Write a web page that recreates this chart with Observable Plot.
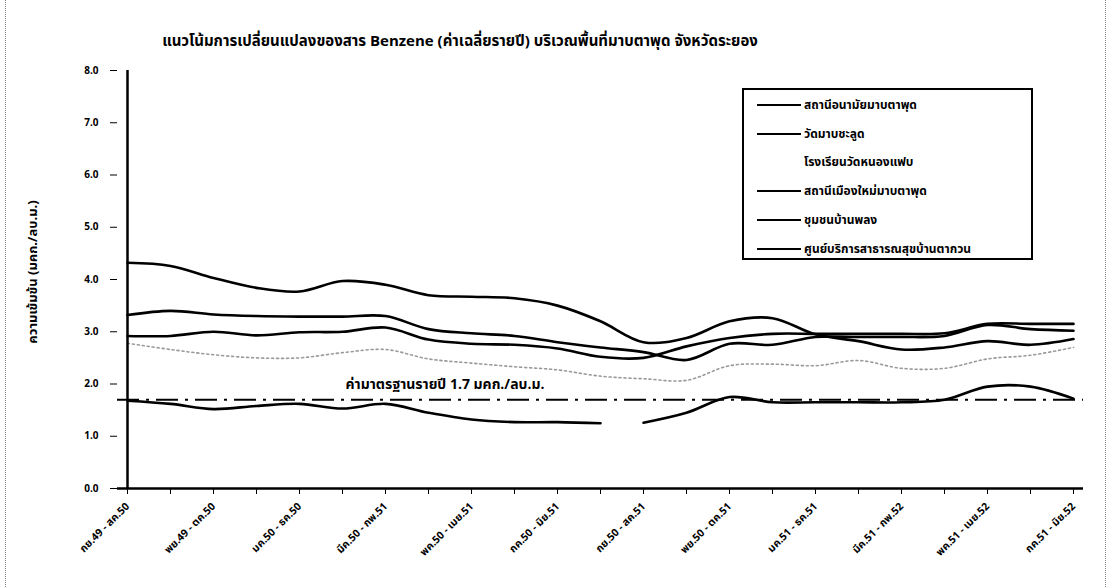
<!DOCTYPE html>
<html><head><meta charset="utf-8">
<script src="https://cdn.jsdelivr.net/npm/d3@7"></script>
<script src="https://cdn.jsdelivr.net/npm/@observablehq/plot@0.6"></script>
<style>
html,body{margin:0;padding:0;background:#fff;}
body{width:1118px;height:587px;position:relative;overflow:hidden;font-family:"Noto Sans Thai","Loma","Garuda","Tlwg Typo","Noto Sans","DejaVu Sans",sans-serif;}
#chart{position:absolute;left:0;top:0;}
#title{position:absolute;left:0;width:920px;top:30px;text-align:center;font-weight:bold;font-size:15px;color:#000;}
#ylab{position:absolute;left:33px;top:272px;transform:translate(-50%,-50%) rotate(-90deg);white-space:nowrap;font-weight:bold;font-size:13px;}
#legend{position:absolute;left:742px;top:88px;width:291px;height:172px;border:2px solid #000;box-sizing:border-box;}
.li{position:absolute;left:13px;font-weight:bold;font-size:12px;white-space:nowrap;display:flex;align-items:center;}
.sw{display:inline-block;width:44px;height:0;border-top:2px solid #000;margin-right:3px;}
.sw.dot{border-top:2px dotted #bbb;}
#frameL{position:absolute;left:5px;top:0;height:587px;border-left:1px dotted #888;}
#frameR{position:absolute;left:1105px;top:0;height:587px;border-left:1px dotted #888;}
</style></head>
<body>
<div id="frameL"></div><div id="frameR"></div>
<div id="chart"></div>
<div id="title"></div>
<div id="ylab"></div>
<div id="legend"></div>
<script>
const titleText = "แนวโน้มการเปลี่ยนแปลงของสาร Benzene (ค่าเฉลี่ยรายปี) บริเวณพื้นที่มาบตาพุด จังหวัดระยอง";
const yLabel = "ความเข้มข้น (มคก./ลบ.ม.)";
const periods = ["กย.49 - สค.50","ตค.49 - กย.50","พย.49 - ตค.50","ธค.49 - พย.50","มค.50 - ธค.50","กพ.50 - มค.51","มีค.50 - กพ.51","เมย.50 - มีค.51","พค.50 - เมย.51","มิย.50 - พค.51","กค.50 - มิย.51","สค.50 - กค.51","กย.50 - สค.51","ตค.50 - กย.51","พย.50 - ตค.51","ธค.50 - พย.51","มค.51 - ธค.51","กพ.51 - มค.52","มีค.51 - กพ.52","เมย.51 - มีค.52","พค.51 - เมย.52","มิย.51 - พค.52","กค.51 - มิย.52"];
const stations = ["สถานีอนามัยมาบตาพุด","วัดมาบชะลูด","โรงเรียนวัดหนองแฟบ","สถานีเมืองใหม่มาบตาพุด","ชุมชนบ้านพลง","ศูนย์บริการสาธารณสุขบ้านตากวน"];
const s1 = [4.32,4.26,4.03,3.84,3.77,3.97,3.90,3.70,3.67,3.64,3.50,3.20,2.80,2.88,3.20,3.26,2.95,2.82,2.66,2.70,2.82,2.75,2.86];
const s2 = [3.32,3.40,3.33,3.30,3.29,3.29,3.30,3.05,2.97,2.92,2.80,2.70,2.61,2.46,2.77,2.75,2.90,2.90,2.90,2.92,3.13,3.05,3.02];
const s3 = [2.78,2.66,2.56,2.50,2.50,2.60,2.66,2.48,2.40,2.33,2.27,2.15,2.10,2.07,2.35,2.38,2.35,2.45,2.30,2.30,2.48,2.55,2.70];
const s4 = [2.92,2.92,3.00,2.93,2.99,3.00,3.08,2.85,2.77,2.75,2.68,2.52,2.50,2.72,2.88,2.96,2.96,2.96,2.96,2.97,3.15,3.15,3.15];
const s5 = [1.68,1.62,1.52,1.58,1.62,1.53,1.62,1.45,1.32,1.27,1.27,1.25,null,null,null,null,null,null,null,null,null,null,null];
const s6 = [null,null,null,null,null,null,null,null,null,null,null,null,1.26,1.45,1.75,1.65,1.65,1.65,1.65,1.70,1.95,1.95,1.72];
const standard = 1.7;
const standardLabel = "ค่ามาตรฐานรายปี 1.7 มคก./ลบ.ม.";
const yTicks = [0,1,2,3,4,5,6,7,8];

const seriesValues = [s1,s2,s3,s4,s5,s6];
const rows = [];
stations.forEach((st, k) => seriesValues[k].forEach((v, i) => rows.push({station: st, period: periods[i], value: v})));

const dotted = stations[2];
const solidRows = rows.filter(d => d.station !== dotted);
const dotRows = rows.filter(d => d.station === dotted);

const chart = Plot.plot({
  width: 1118, height: 587,
  marginLeft: 117, marginRight: 35, marginTop: 70, marginBottom: 99,
  style: {fontFamily: "'Noto Sans Thai','Loma','Garuda','Noto Sans',sans-serif", fontWeight: "bold", fontSize: "10px", color: "#000", background: "transparent"},
  x: {type: "point", domain: periods, padding: 0},
  y: {domain: [0, 8]},
  marks: [
    Plot.axisY({ticks: yTicks, tickFormat: d3.format(".1f"), tickSize: 7, tickPadding: 12, label: null, fontSize: 10}),
    Plot.axisX({ticks: periods, tickFormat: (d, i) => i % 2 === 0 ? d : "", tickRotate: -45, tickSize: 6, tickPadding: 10, label: null, fontSize: 10.5}),
    Plot.ruleY([standard], {stroke: "#000", strokeWidth: 2, strokeDasharray: "22,7,3,7"}),
    Plot.text([standardLabel], {x: () => periods[5], y: () => standard, text: d => d, textAnchor: "start", dy: -15, dx: 3, fontSize: 14, fontWeight: "bold"}),
    Plot.line(dotRows, {x: "period", y: "value", z: "station", stroke: "#999", strokeWidth: 1.6, strokeDasharray: "2,3", curve: "catmull-rom", defined: d => d.value != null}),
    Plot.line(solidRows, {x: "period", y: "value", z: "station", stroke: "#000", strokeWidth: 2.6, curve: "catmull-rom", defined: d => d.value != null}),
    Plot.ruleY([0], {stroke: "#000", strokeWidth: 2.5}),
    Plot.ruleX([periods[0]], {stroke: "#000", strokeWidth: 2.5})
  ]
});
document.getElementById("chart").appendChild(chart);
document.getElementById("title").textContent = titleText;
document.getElementById("ylab").textContent = yLabel;
const lg = document.getElementById("legend");
stations.forEach((st, k) => {
  const div = document.createElement("div");
  div.className = "li";
  div.style.top = (6 + k * 28.7) + "px";
  const sw = document.createElement("span");
  sw.className = "sw" + (st === dotted ? " dot" : "");
  if (st === dotted) sw.style.borderTopColor = "transparent";
  div.appendChild(sw);
  div.appendChild(document.createTextNode(st));
  lg.appendChild(div);
});
</script>
</body></html>
